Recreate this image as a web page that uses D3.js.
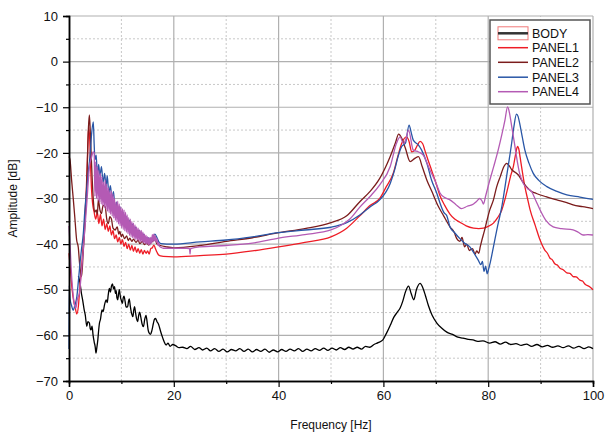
<!DOCTYPE html>
<html>
<head>
<meta charset="utf-8">
<script src="https://cdn.jsdelivr.net/npm/d3@7"></script>
<style>
html,body{margin:0;padding:0;background:#fff;}
svg text{font-family:"Liberation Sans",Arial,sans-serif;}
</style>
</head>
<body>
<svg id="chart" width="606" height="435"></svg>
<script>
// ---- data: [frequency Hz, amplitude dB] ----
const seriesNames = ["BODY","PANEL1","PANEL2","PANEL3","PANEL4"];
const xTicks = [0,20,40,60,80,100];
const yTicks = [-70,-60,-50,-40,-30,-20,-10,0,10];

const body = [[1.8,-47],[2.1,-48.5],[2.4,-51],[2.6,-52.2],[2.9,-54.4],[3.1,-55.5],[3.4,-58],[3.6,-57],[3.9,-57.3],[4.05,-58.5],[4.2,-58.8],[4.4,-58],[4.6,-60],[4.8,-61.4],[5.0,-62.5],[5.15,-63.9],[5.3,-62.8],[5.5,-61],[5.65,-59],[5.8,-57.4],[6.0,-56.5],[6.3,-54.4],[6.5,-54.8],[6.8,-53.2],[7.1,-52.2],[7.3,-52.8],[7.5,-51],[7.7,-49.7],[7.9,-50.5],[8.1,-49.2],[8.3,-48.7],[8.5,-49.8],[8.7,-49.3],[8.85,-50.8],[9.0,-50.2],[9.15,-51.8],[9.3,-52.2],[9.45,-51],[9.6,-50],[9.8,-51.5],[10.0,-52.4],[10.2,-53],[10.35,-51.8],[10.5,-51.4],[10.7,-52.5],[10.9,-53.8],[11.2,-53.7],[11.35,-52.6],[11.5,-52],[11.7,-53.6],[11.95,-55.2],[12.2,-55.9],[12.35,-54.5],[12.5,-53.7],[12.7,-55],[12.9,-56.4],[13.1,-57],[13.3,-55.6],[13.5,-54.9],[13.7,-56],[13.95,-57.5],[14.2,-58.1],[14.45,-56.5],[14.7,-55.6],[14.9,-57],[15.1,-58.8],[15.3,-59.5],[15.55,-59.8],[15.8,-59],[16.1,-57.4],[16.3,-56.5],[16.5,-56.3],[16.8,-57],[17.1,-57.6],[17.5,-59.2],[17.9,-60.6],[18.2,-61.5],[18.5,-62.1],[18.9,-61.7],[19.3,-62.4],[19.8,-62],[20.4,-62.3],[21,-62.7],[21.7,-62.6],[22.5,-62.9],[23.2,-62.4],[24,-63.1],[24.8,-62.7],[25.5,-63.2],[26.3,-62.8],[27,-63.4],[27.8,-62.9],[28.6,-63.5],[29.4,-63],[30.2,-63.6],[31,-63.1],[31.8,-63.4],[32.6,-62.9],[33.4,-63.5],[34.2,-63],[35,-63.6],[35.8,-63.1],[36.6,-63.5],[37.4,-63],[38.2,-63.7],[39,-63.2],[39.8,-63.6],[40.6,-63.1],[41.4,-63.5],[42.2,-63],[43,-63.4],[43.8,-62.9],[44.6,-63.5],[45.4,-63],[46.2,-63.4],[47,-62.9],[47.8,-63.3],[48.6,-62.8],[49.4,-63.3],[50.2,-62.8],[51,-63.2],[51.8,-62.7],[52.6,-63.1],[53.4,-62.6],[54.2,-63],[55,-62.6],[55.8,-63],[56.6,-62.4],[57.4,-62.6],[58.2,-62],[59,-61.6],[59.9,-61],[60.6,-59.5],[61.3,-57.8],[62,-56],[62.6,-55],[63.2,-54],[63.7,-52.5],[64.2,-50.5],[64.8,-49.2],[65.3,-50.8],[65.8,-52.2],[66.3,-50],[67.0,-48.6],[67.5,-49.5],[68.0,-51.2],[68.6,-53.5],[69.3,-55.6],[70.2,-57.3],[71.1,-58.4],[72.1,-59.3],[73.2,-59.8],[74.2,-60.4],[75.2,-60.6],[76.2,-60.9],[77.1,-61],[78,-61.3],[79,-61.2],[80.3,-61.7],[81.3,-61.4],[82.3,-61.9],[83.3,-61.5],[84.3,-62],[85.3,-61.8],[86.3,-62.2],[87.3,-61.9],[88.3,-62.4],[89.3,-62],[90.3,-62.5],[91.3,-62.2],[92.3,-62.6],[93.3,-62.3],[94.3,-62.7],[95.3,-62.3],[96.3,-62.8],[97.3,-62.4],[98.3,-62.9],[99.2,-62.5],[100,-62.9]];

const panel1 = [[0,-42],[0.3,-46],[0.6,-50],[0.9,-52.5],[1.2,-54],[1.5,-55.3],[1.8,-53.5],[2.1,-49],[2.4,-45],[2.7,-40.5],[3.0,-35],[3.3,-28],[3.5,-22],[3.75,-14.3],[3.95,-17],[4.1,-22],[4.3,-28],[4.5,-31],[4.8,-33],[5.1,-34.5],[5.4,-33],[5.7,-35.5],[6.0,-33.5],[6.3,-36],[6.6,-34.5],[6.9,-36.8],[7.2,-35.5],[7.5,-37.2],[7.8,-36],[8.1,-38],[8.4,-37],[8.7,-38.8],[9.0,-38],[9.3,-39.5],[9.6,-38.5],[9.9,-40],[10.2,-39],[10.5,-40.5],[10.8,-39.6],[11.1,-41],[11.4,-40],[11.7,-41.3],[12.0,-40.3],[12.3,-41.6],[12.6,-40.6],[12.9,-41.8],[13.2,-41],[13.5,-42],[13.8,-41.2],[14.1,-42.2],[14.4,-41.4],[14.7,-42],[15.0,-41.5],[15.3,-42.2],[15.6,-41.0],[15.9,-40.8],[16.2,-40.2],[16.5,-41],[16.8,-41.8],[17.1,-42.4],[17.5,-42.6],[18,-42.7],[20,-42.8],[25,-42.5],[30,-42.2],[35,-41.5],[40,-40.6],[45,-39.6],[50,-38.4],[53,-36.5],[55.5,-33.8],[57.5,-31.5],[59.3,-30],[60.5,-27.5],[61.9,-24.4],[62.7,-21],[63.5,-17.9],[64.4,-16.5],[64.9,-17.5],[65.4,-19.8],[66.0,-19.4],[66.5,-18.3],[67.0,-17.5],[67.5,-18],[67.9,-19.4],[68.5,-21.5],[69.2,-23.8],[70,-26.5],[70.8,-29.4],[71.7,-31.5],[72.7,-33.4],[73.6,-34.5],[74.6,-35.2],[75.8,-36],[77.2,-36.5],[78.2,-36.6],[79.1,-36.5],[80,-36.1],[81.0,-35.4],[81.8,-34.2],[82.6,-32.5],[83.2,-30.2],[83.8,-27.4],[84.3,-25],[84.8,-23],[85.2,-20.5],[85.6,-18.6],[85.9,-19.5],[86.1,-21],[86.5,-24],[87.0,-27.4],[87.5,-30],[88.0,-32.5],[89,-36],[89.9,-39.1],[90.8,-41.3],[91.3,-42],[91.8,-43.1],[92.2,-43.4],[92.7,-44.3],[93.2,-44.6],[93.7,-45.3],[94.3,-45.6],[95,-46.3],[95.6,-46.4],[96.2,-47.1],[96.8,-47.2],[97.5,-47.9],[98,-48.1],[98.5,-48.8],[99.3,-49.3],[100,-50]];

const panel2 = [[0,-20.8],[0.19,-21.5],[0.5,-26],[0.83,-30.3],[1.1,-34],[1.46,-39.1],[1.78,-40.8],[2.0,-44],[2.23,-46.4],[2.4,-47.1],[2.7,-42],[3.05,-35.4],[3.37,-27.4],[3.69,-15],[3.88,-11.7],[4.05,-15],[4.2,-19.4],[4.4,-25],[4.64,-30.3],[4.9,-33],[5.2,-32.5],[5.4,-33.5],[5.6,-30.3],[5.9,-32.5],[6.2,-33.3],[6.5,-31.5],[6.9,-31.8],[7.2,-34.5],[7.5,-35.5],[7.8,-34],[8.1,-34.5],[8.4,-36.5],[8.8,-36.9],[9.2,-36.2],[9.5,-37.8],[9.7,-37.2],[10.0,-38.4],[10.2,-37.8],[10.6,-38.8],[11.0,-38.2],[11.3,-39.2],[11.6,-38.7],[12.0,-39.4],[12.3,-38.9],[12.8,-39.6],[13.2,-39.1],[13.5,-39.9],[14.0,-39.4],[14.4,-40.1],[14.8,-39.7],[15.2,-40.2],[15.5,-39.8],[16.0,-39.3],[16.4,-39],[16.8,-40],[17.4,-40.3],[18.6,-40.6],[20,-40.8],[25,-40.3],[30,-39.4],[35,-38.6],[40,-37.5],[45,-36.6],[50,-35.3],[53,-33.8],[55.5,-30.7],[57.5,-28.4],[59.3,-25.6],[61.3,-20.8],[62.3,-17.8],[62.9,-15.9],[63.5,-16.8],[64.2,-19],[65.1,-21.9],[66,-21.2],[66.7,-20.8],[67.4,-23],[68.3,-26],[69.3,-28.6],[70.3,-31.3],[71.5,-33.8],[72.7,-36.2],[73.5,-37.4],[74,-38.8],[74.6,-39.4],[75,-38.5],[75.5,-40.6],[75.9,-40],[76.4,-41.4],[77,-41],[77.5,-42.2],[77.8,-41.5],[78.2,-42],[78.5,-40.5],[78.8,-39.1],[79.3,-37],[79.7,-35.1],[80.3,-32.5],[81,-30.3],[81.6,-27.5],[82.3,-25.2],[83,-23],[83.5,-22.3],[84,-22.8],[84.5,-23.7],[85.2,-24.3],[85.8,-24.9],[86.5,-26.2],[87.3,-27.4],[88.2,-28.4],[89.2,-28.9],[91,-29.6],[93.1,-30.3],[95,-30.9],[96.2,-31.4],[98,-31.8],[100,-32.2]];

const panel3 = [[0,-63],[0.05,-49],[0.2,-52],[0.5,-53.5],[0.8,-54.5],[1.1,-53.5],[1.5,-51.5],[1.8,-48],[2.1,-44.2],[2.4,-41],[2.74,-37.6],[3.0,-33],[3.37,-28.1],[3.7,-24],[4.0,-20.8],[4.3,-16],[4.64,-13.2],[4.8,-18],[4.95,-21.5],[5.2,-20.5],[5.4,-25.2],[5.65,-22.5],[5.9,-25],[6.2,-23],[6.5,-26.5],[6.8,-24.5],[7.07,-27.5],[7.3,-25],[7.6,-28.9],[7.9,-27.2],[8.2,-30],[8.5,-28.5],[8.8,-32.5],[9.1,-30.8],[9.4,-33],[9.7,-31.8],[10.0,-34.3],[10.3,-33],[10.6,-35],[10.9,-34],[11.2,-35.7],[11.5,-34.8],[11.8,-36.4],[12.1,-35.6],[12.4,-37],[12.7,-36.3],[13.0,-37.6],[13.4,-37],[13.8,-38.2],[14.2,-37.8],[14.6,-38.8],[15.0,-38.5],[15.5,-39.1],[16.0,-38.5],[16.4,-37.8],[16.8,-38.6],[17.2,-39.6],[17.6,-39.9],[18.6,-40],[20,-40],[25,-39.5],[30,-39.1],[35,-38.4],[40,-37.5],[45,-36.9],[50,-36.3],[53,-35.3],[55.5,-33.6],[57.5,-31.8],[59.3,-30.3],[61.3,-26.7],[62.2,-23.5],[62.8,-20.8],[63.5,-18.6],[64.2,-17.9],[64.9,-13.9],[65.3,-15.5],[65.7,-17.2],[66.7,-18.3],[67.3,-19.4],[68.3,-22.3],[69.2,-26],[70.2,-28.9],[70.8,-31],[71.5,-33],[72.1,-33.8],[72.7,-36.2],[73.6,-37.5],[74.6,-38.8],[75.5,-39.8],[76.5,-40.6],[77.3,-42],[78.1,-43.5],[78.6,-44.5],[78.9,-43.8],[79.2,-46],[79.5,-44.8],[79.8,-46.5],[80.0,-45.8],[80.4,-44],[81,-40.6],[81.8,-36],[82.6,-31.8],[83.2,-27.5],[83.8,-23],[84.4,-18.5],[84.9,-14.3],[85.4,-11.5],[85.7,-12],[86.0,-13.5],[86.5,-16.5],[87.0,-19.4],[87.8,-22.3],[88.6,-24.5],[89.8,-26.2],[91.2,-27.4],[93,-28.4],[95,-29.2],[97.5,-29.7],[100,-30.2]];

const panel4 = [[0,-36],[0.2,-40],[0.4,-45],[0.7,-50],[1.0,-53],[1.3,-54],[1.6,-52],[2.0,-50.8],[2.3,-47],[2.6,-43],[3.0,-37],[3.4,-31],[3.9,-23],[4.3,-21],[4.6,-19.8],[4.8,-20],[4.95,-29.5],[5.1,-22],[5.25,-30],[5.4,-23],[5.55,-30.5],[5.7,-23.8],[5.85,-30.8],[6.0,-24.5],[6.15,-31.2],[6.3,-25.2],[6.45,-31.5],[6.6,-26.4],[6.75,-32],[6.9,-26],[7.05,-32.4],[7.2,-26.8],[7.35,-32.8],[7.5,-27.6],[7.65,-33.1],[7.8,-28.2],[7.95,-33.5],[8.1,-28.4],[8.25,-33.9],[8.4,-29],[8.55,-34.3],[8.7,-30],[8.85,-34.8],[9.0,-30.8],[9.15,-35.2],[9.3,-30.6],[9.45,-35.6],[9.6,-31.2],[9.75,-36],[9.9,-31.8],[10.05,-36.4],[10.2,-32.2],[10.35,-36.8],[10.5,-32.5],[10.65,-37.1],[10.8,-33],[10.95,-37.4],[11.1,-33.6],[11.25,-37.7],[11.4,-34.2],[11.55,-38.1],[11.7,-34.5],[11.85,-38.4],[12.0,-35],[12.15,-38.6],[12.3,-35.4],[12.45,-38.8],[12.6,-35.8],[12.75,-39],[12.9,-36.2],[13.05,-39.1],[13.2,-36.5],[13.35,-39.3],[13.5,-36.9],[13.65,-39.4],[13.8,-37],[13.95,-39.6],[14.1,-37.4],[14.25,-39.7],[14.4,-37.8],[14.55,-39.9],[14.7,-38.1],[14.85,-40],[15.0,-38.4],[15.15,-40.1],[15.3,-38.6],[15.45,-40.2],[15.6,-38.5],[15.75,-39.8],[15.9,-37.9],[16.05,-39.5],[16.2,-37.8],[16.35,-39.3],[16.5,-38.2],[16.65,-39.6],[16.8,-38.8],[16.95,-40.2],[17.1,-39.6],[17.25,-40.5],[17.4,-40.6],[18,-40.9],[20,-40.9],[22.5,-40.9],[23.0,-41],[23.1,-42.2],[23.2,-41],[25,-40.6],[30,-40.3],[35,-39.8],[40,-38.7],[45,-37.9],[50,-36.9],[52,-35.8],[53.6,-34.5],[55.5,-31.9],[57.5,-29.5],[59.3,-27],[61.3,-23],[62.5,-17.9],[63.2,-16.5],[63.8,-17.9],[64.3,-17],[64.8,-15],[65.7,-19.4],[66.7,-19.8],[67.6,-20.5],[68.9,-23.8],[70.0,-26.5],[70.8,-28.8],[71.7,-29.8],[72.7,-30.3],[73.8,-31.3],[74.9,-32.2],[76,-31.7],[77.2,-31.2],[77.8,-30.6],[78.4,-30],[78.8,-30.5],[79.1,-31.2],[79.5,-29.5],[80.3,-26],[81.1,-22.8],[81.9,-19.4],[82.6,-16],[83.2,-12.8],[83.7,-9.9],[84.1,-11.5],[84.5,-14.3],[85.0,-17.8],[85.4,-20.8],[86,-24.5],[86.7,-26.7],[87.5,-27.8],[88.3,-28.5],[89.1,-30.5],[89.9,-32.5],[91,-34.8],[92.4,-36.2],[94,-36.6],[96.2,-36.9],[97.2,-37.4],[98.1,-38],[99,-37.9],[100,-38]];

const seriesData = [body, panel1, panel2, panel3, panel4];
const seriesColors = ["#000000","#ee1c25","#7b1c1c","#2956a6","#b45ab4"];

// ---- layout ----
const svg = d3.select("#chart");
const margin = {left:69, right:13, top:16, bottom:54};
const W = 606, H = 435;
const x = d3.scaleLinear().domain([0,100]).range([margin.left, W - margin.right]);
const y = d3.scaleLinear().domain([-70,10]).range([H - margin.bottom, margin.top]);

// grid
const g = svg.append("g");
const minorX = d3.range(10,100,20);
const minorY = d3.range(-65,10,10);
g.selectAll(".mgx").data(minorX).enter().append("line")
  .attr("x1",d=>x(d)).attr("x2",d=>x(d)).attr("y1",y(-70)).attr("y2",y(10))
  .attr("stroke","#c8c8c8").attr("stroke-width",1).attr("stroke-dasharray","2,2");
g.selectAll(".mgy").data(minorY).enter().append("line")
  .attr("y1",d=>y(d)).attr("y2",d=>y(d)).attr("x1",x(0)).attr("x2",x(100))
  .attr("stroke","#c8c8c8").attr("stroke-width",1).attr("stroke-dasharray","2,2");
g.selectAll(".gx").data(xTicks.filter(d=>d>0)).enter().append("line")
  .attr("x1",d=>x(d)).attr("x2",d=>x(d)).attr("y1",y(-70)).attr("y2",y(10))
  .attr("stroke","#b0b0b0").attr("stroke-width",1.2);
g.selectAll(".gy").data(yTicks.filter(d=>d>-70)).enter().append("line")
  .attr("y1",d=>y(d)).attr("y2",d=>y(d)).attr("x1",x(0)).attr("x2",x(100))
  .attr("stroke","#b0b0b0").attr("stroke-width",1.2);

// series
const line = d3.line().x(d=>x(d[0])).y(d=>y(d[1])).curve(d3.curveMonotoneX);
seriesData.forEach((s,i)=>{
  svg.append("path").datum(s).attr("d",line)
    .attr("fill","none").attr("stroke",seriesColors[i])
    .attr("stroke-width",1.3).attr("stroke-linejoin","round");
});

// axes
const xAxis = d3.axisBottom(x).tickValues(xTicks).tickSize(6).tickPadding(4);
const xAxisMinor = d3.axisBottom(x).tickValues(minorX).tickSize(3).tickFormat("");
const yAxis = d3.axisLeft(y).tickValues(yTicks).tickSize(6).tickPadding(5);
const yAxisMinor = d3.axisLeft(y).tickValues(minorY).tickSize(3).tickFormat("");

function styleAxis(sel){
  sel.select(".domain").attr("stroke","#000").attr("stroke-width",1.5);
  sel.selectAll(".tick line").attr("stroke","#000").attr("stroke-width",1.2);
  sel.selectAll(".tick text").attr("fill","#111").style("font-size","13px");
}
svg.append("g").attr("transform",`translate(0,${y(-70)})`).call(xAxisMinor).call(styleAxis);
svg.append("g").attr("transform",`translate(${x(0)},0)`).call(yAxisMinor).call(styleAxis);
svg.append("g").attr("transform",`translate(0,${y(-70)})`).call(xAxis).call(styleAxis);
svg.append("g").attr("transform",`translate(${x(0)},0)`).call(yAxis).call(styleAxis);

// axis titles
svg.append("text").attr("x",(x(0)+x(100))/2).attr("y",429).attr("text-anchor","middle")
  .style("font-size","12px").attr("fill","#111").text("Frequency [Hz]");
svg.append("text").attr("transform",`translate(17,${(y(-70)+y(10))/2}) rotate(-90)`)
  .attr("text-anchor","middle").style("font-size","12px").attr("fill","#111").text("Amplitude [dB]");

// legend
const lg = svg.append("g");
lg.append("rect").attr("x",490).attr("y",20).attr("width",100).attr("height",84)
  .attr("fill","#fff").attr("stroke","#555").attr("stroke-width",1.5);
const legY = [33.3,47.7,62.3,77.2,91.7];
seriesNames.forEach((n,i)=>{
  if(i===0){
    lg.append("rect").attr("x",498).attr("y",legY[i]-6.5).attr("width",30).attr("height",13)
      .attr("fill","none").attr("stroke","#f07878").attr("stroke-width",1);
  }
  lg.append("line").attr("x1",498).attr("x2",528).attr("y1",legY[i]).attr("y2",legY[i])
    .attr("stroke",i===0?"#333":seriesColors[i]).attr("stroke-width",i===0?2.5:1.5);
  lg.append("text").attr("x",532).attr("y",legY[i]+4.5).style("font-size","12.5px")
    .attr("fill","#111").text(n);
});
</script>
</body>
</html>
